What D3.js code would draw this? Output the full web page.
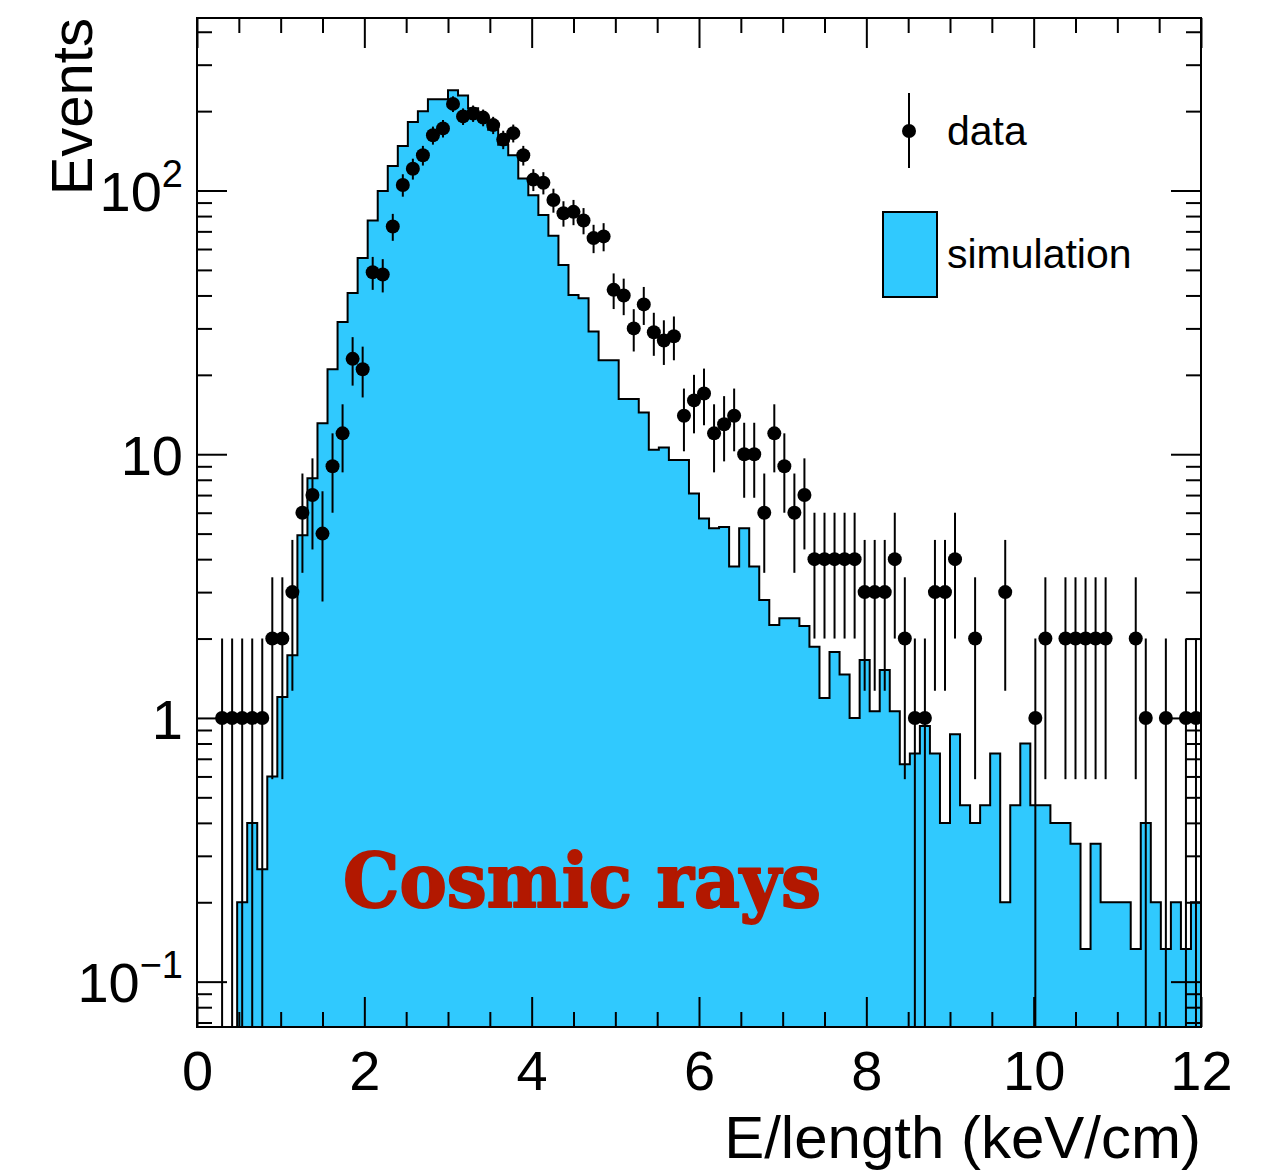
<!DOCTYPE html>
<html>
<head>
<meta charset="utf-8">
<script src="https://cdn.jsdelivr.net/npm/d3@7"></script>
<style>
  html, body { margin: 0; padding: 0; background: #ffffff; }
  svg { display: block; }
</style>
</head>
<body>
<svg id="chart" width="1286" height="1176"></svg>
<script>
// ---------------- data ----------------
const xMin = 0, xMax = 12, nBins = 100;

// simulation histogram (100 bins of 0.12 keV/cm)
const simulation = [
  0, 0, 0, 0, 0.2, 0.4, 0.267, 0.6, 1.2, 1.73,
  4.93, 8.1, 13.1, 21, 31.7, 40.9, 55.5, 77, 99.6, 124,
  147.5, 182, 200, 222, 222, 240, 229, 205, 188, 170,
  149, 136, 111, 96, 80.7, 67.3, 52.2, 40.2, 39, 29.2,
  22.7, 22.7, 16.2, 16.2, 14.4, 10.4, 10.6, 9.5, 9.5, 7.1,
  5.7, 5.24, 5.3, 3.75, 5.24, 3.75, 2.8, 2.25, 2.39, 2.39,
  2.23, 1.86, 1.19, 1.78, 1.46, 1.0, 1.66, 1.06, 1.52, 1.06,
  0.667, 0.733, 0.933, 0.733, 0.4, 0.867, 0.467, 0.4, 0.467, 0.733,
  0.2, 0.467, 0.8, 0.467, 0.467, 0.4, 0.4, 0.333, 0.133, 0.333,
  0.2, 0.2, 0.2, 0.133, 0.4, 0.2, 0.133, 0.2, 0.133, 0.2
];

// measured data (event counts per bin)
const data = [
  0, 0, 1, 1, 1, 1, 1, 2, 2, 3,
  6, 7, 5, 9, 12, 23, 21, 49, 48, 73,
  105, 121, 136, 162, 172, 213, 191, 196, 189, 177,
  156, 165, 136, 110, 107, 92, 82, 83, 77, 66,
  67, 42, 40, 30, 37, 29, 27, 28, 14, 16,
  17, 12, 13, 14, 10, 10, 6, 12, 9, 6,
  7, 4, 4, 4, 4, 4, 3, 3, 3, 4,
  2, 1, 1, 3, 3, 4, 0, 2, 0, 0,
  3, 0, 0, 1, 2, 0, 2, 2, 2, 2,
  2, 0, 0, 2, 1, 0, 1, 0, 1, 1
];

const xTicks = [0, 2, 4, 6, 8, 10, 12];
const xMinorTicks = [0.5, 1, 1.5, 2.5, 3, 3.5, 4.5, 5, 5.5, 6.5, 7, 7.5, 8.5, 9, 9.5, 10.5, 11, 11.5];
const yTicks = [0.1, 1, 10, 100];
const yTickBase = ["10", "1", "10", "10"];
const yTickExp  = ["\u22121", "", "", "2"];
const yMinorTicks = [0.07, 0.08, 0.09, 0.2, 0.3, 0.4, 0.5, 0.6, 0.7, 0.8, 0.9,
                     2, 3, 4, 5, 6, 7, 8, 9, 20, 30, 40, 50, 60, 70, 80, 90, 200, 300, 400];
const legendLabels = ["data", "simulation"];
const xTitle = "E/length (keV/cm)";
const yTitle = "Events";
const annotation = "Cosmic rays";

// ---------------- layout ----------------
const L = 197, R = 1201, T = 18, B = 1027;
const fillBlue = "#30c9fe";
const font = "'Liberation Sans', Arial, Helvetica, sans-serif";

const svg = d3.select("#chart");
svg.append("rect").attr("width", 1286).attr("height", 1176).attr("fill", "#fff");

const x = d3.scaleLinear().domain([xMin, xMax]).range([L, R]);
const y = d3.scaleLog().domain([0.0673, 451]).range([B, T]);

svg.append("defs").append("clipPath").attr("id", "plotclip")
  .append("rect").attr("x", L).attr("y", T).attr("width", R - L).attr("height", B - T);

const edges = d3.range(nBins + 1).map(i => xMin + i * (xMax - xMin) / nBins);

// ---------------- simulation histogram ----------------
const histPts = [[x(edges[0]), B]];
simulation.forEach((v, i) => {
  const yy = v > 0 ? y(v) : B;
  histPts.push([x(edges[i]), yy], [x(edges[i + 1]), yy]);
});
histPts.push([x(edges[nBins]), B]);

const plot = svg.append("g").attr("clip-path", "url(#plotclip)");
plot.append("path")
  .attr("d", d3.line()(histPts))
  .attr("fill", fillBlue)
  .attr("stroke", "#000")
  .attr("stroke-width", 2)
  .attr("stroke-linejoin", "miter");

// ---------------- data points ----------------
const pts = data.map((v, i) => ({ v, c: (edges[i] + edges[i + 1]) / 2 })).filter(d => d.v > 0);
plot.selectAll("line.err").data(pts).enter().append("line")
  .attr("class", "err")
  .attr("x1", d => x(d.c)).attr("x2", d => x(d.c))
  .attr("y1", d => y(d.v + Math.sqrt(d.v)))
  .attr("y2", d => (d.v - Math.sqrt(d.v)) > 0 ? y(d.v - Math.sqrt(d.v)) : B + 5)
  .attr("stroke", "#000").attr("stroke-width", 2);
plot.selectAll("circle.pt").data(pts).enter().append("circle")
  .attr("class", "pt")
  .attr("cx", d => x(d.c)).attr("cy", d => y(d.v)).attr("r", 7)
  .attr("fill", "#000");

// ---------------- axes (ROOT style, ticks inside) ----------------
function styleAxis(g) {
  g.select(".domain").remove();
  g.selectAll(".tick line").attr("stroke", "#000").attr("stroke-width", 2);
  g.selectAll(".tick text").attr("fill", "#000").attr("font-family", font);
}

const gxb = svg.append("g").attr("transform", `translate(0,${B})`)
  .call(d3.axisBottom(x).tickValues(xTicks).tickSize(-30).tickPadding(23).tickFormat(d3.format("d")));
styleAxis(gxb);
gxb.selectAll(".tick text").attr("font-size", 56);
svg.append("g").attr("transform", `translate(0,${B})`)
  .call(d3.axisBottom(x).tickValues(xMinorTicks).tickSize(-15).tickFormat(""))
  .call(styleAxis);
svg.append("g").attr("transform", `translate(0,${T})`)
  .call(d3.axisTop(x).tickValues(xTicks).tickSize(-30).tickFormat(""))
  .call(styleAxis);
svg.append("g").attr("transform", `translate(0,${T})`)
  .call(d3.axisTop(x).tickValues(xMinorTicks).tickSize(-15).tickFormat(""))
  .call(styleAxis);

const gyl = svg.append("g").attr("transform", `translate(${L},0)`)
  .call(d3.axisLeft(y).tickValues(yTicks).tickSize(-30).tickPadding(14).tickFormat(""));
styleAxis(gyl);
gyl.selectAll(".tick text").each(function (d, i) {
  const t = d3.select(this).attr("font-size", 56).attr("dy", "0.36em");
  t.append("tspan").text(yTickBase[i]);
  if (yTickExp[i]) t.append("tspan").attr("font-size", 38).attr("dy", -24).text(yTickExp[i]);
});
svg.append("g").attr("transform", `translate(${L},0)`)
  .call(d3.axisLeft(y).tickValues(yMinorTicks).tickSize(-15).tickFormat(""))
  .call(styleAxis);
svg.append("g").attr("transform", `translate(${R},0)`)
  .call(d3.axisRight(y).tickValues(yTicks).tickSize(-30).tickFormat(""))
  .call(styleAxis);
svg.append("g").attr("transform", `translate(${R},0)`)
  .call(d3.axisRight(y).tickValues(yMinorTicks).tickSize(-15).tickFormat(""))
  .call(styleAxis);

// frame
svg.append("rect").attr("x", L).attr("y", T).attr("width", R - L).attr("height", B - T)
  .attr("fill", "none").attr("stroke", "#000").attr("stroke-width", 2);

// axis titles
svg.append("text").attr("x", R).attr("y", 1158).attr("text-anchor", "end")
  .attr("font-family", font).attr("font-size", 60).attr("fill", "#000").text(xTitle);
svg.append("text").attr("transform", "rotate(-90)").attr("x", -T).attr("y", 92)
  .attr("text-anchor", "end").attr("font-family", font).attr("font-size", 58)
  .attr("fill", "#000").text(yTitle);

// ---------------- legend ----------------
const lg = svg.append("g");
lg.append("line").attr("x1", 909).attr("x2", 909).attr("y1", 93).attr("y2", 168)
  .attr("stroke", "#000").attr("stroke-width", 2);
lg.append("circle").attr("cx", 909).attr("cy", 131).attr("r", 7).attr("fill", "#000");
lg.append("rect").attr("x", 883).attr("y", 212).attr("width", 54).attr("height", 85)
  .attr("fill", fillBlue).attr("stroke", "#000").attr("stroke-width", 2);
lg.selectAll("text").data(legendLabels).enter().append("text")
  .attr("x", 947).attr("y", (d, i) => i === 0 ? 145 : 268)
  .attr("font-family", font).attr("font-size", 41).attr("fill", "#000")
  .text(d => d);

// ---------------- annotation ----------------
svg.append("text").attr("x", 343).attr("y", 907)
  .attr("font-family", "'DejaVu Serif', serif").attr("font-weight", "bold")
  .attr("font-size", 74).attr("fill", "#b21800")
  .attr("stroke", "#b21800").attr("stroke-width", 2).attr("stroke-linejoin", "round")
  .attr("textLength", 478).attr("lengthAdjust", "spacingAndGlyphs")
  .text(annotation);
</script>
</body>
</html>
